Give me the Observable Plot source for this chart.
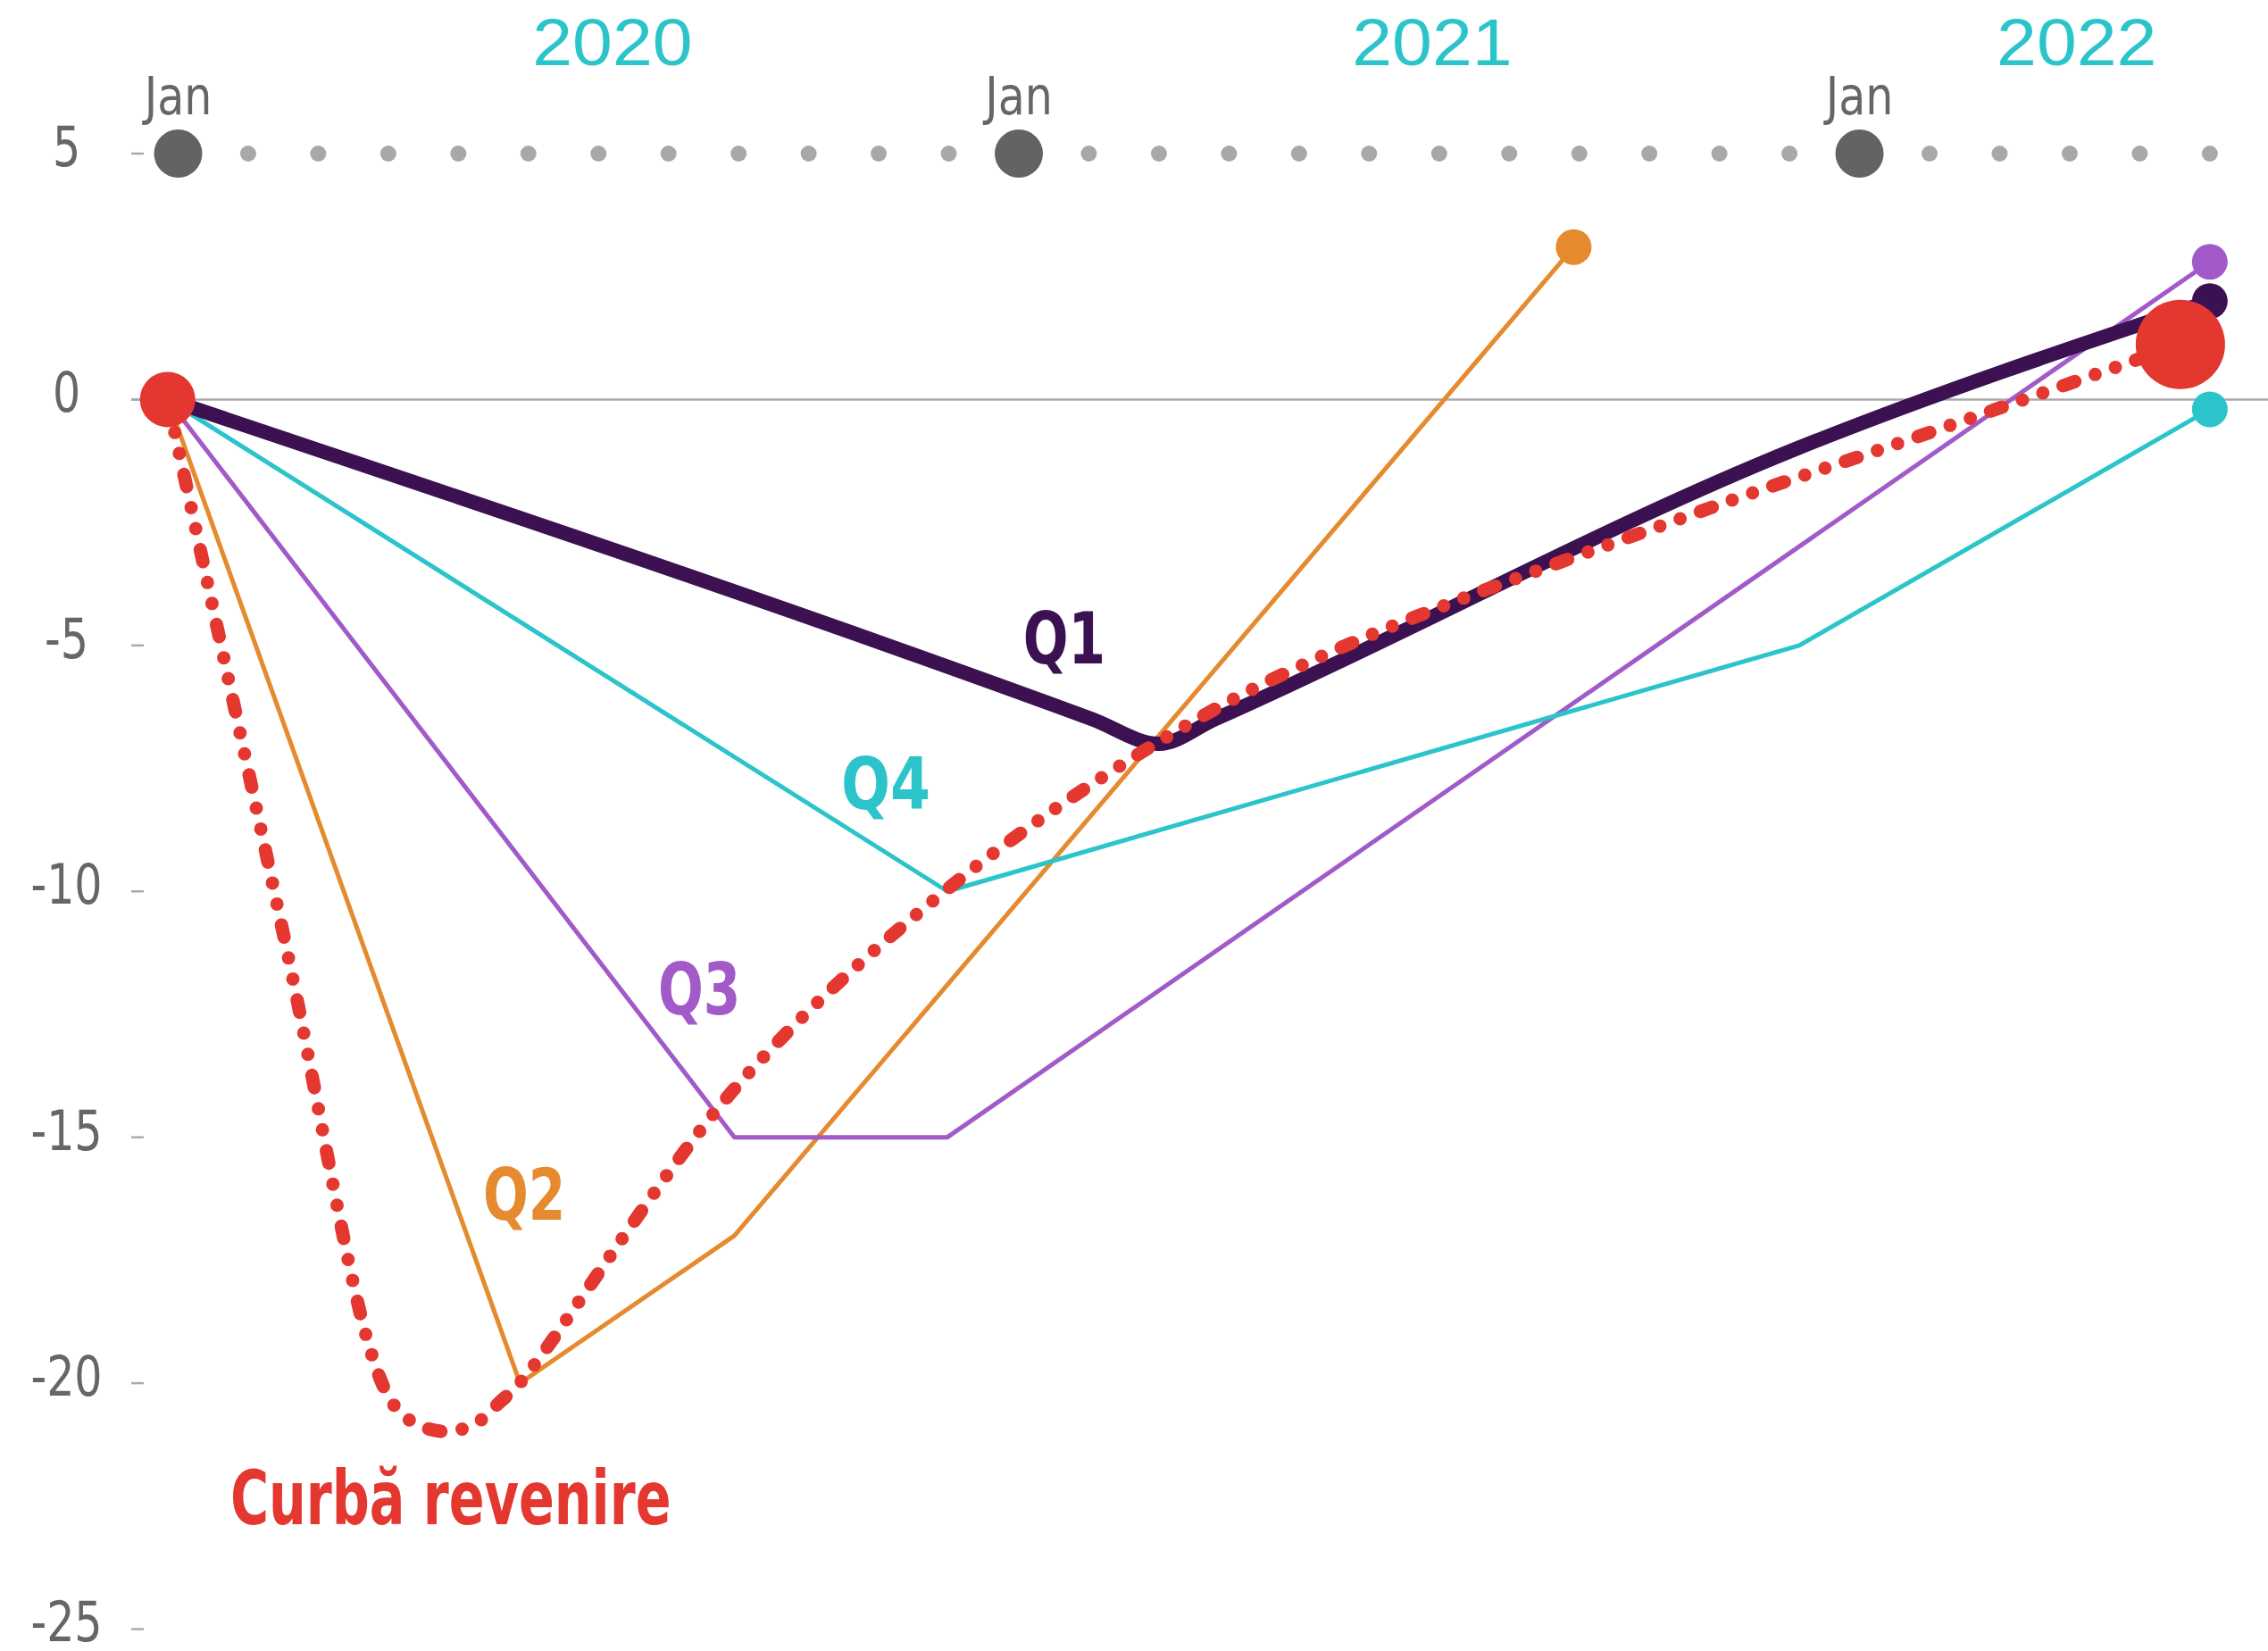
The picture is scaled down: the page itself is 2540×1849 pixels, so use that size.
<!DOCTYPE html>
<html><head><meta charset="utf-8">
<script src="https://cdn.jsdelivr.net/npm/d3@7"></script>
<script src="https://cdn.jsdelivr.net/npm/@observablehq/plot@0.6"></script>
<style>html,body{margin:0;padding:0;background:#fff;} svg{display:block}</style>
</head><body><div id="chart"></div>
<script>
// ---- data ----
const monthNames = ["Jan","Feb","Mar","Apr","May","Jun","Jul","Aug","Sep","Oct","Nov","Dec"];
const monthCount = 30; // Jan 2020 – Jun 2022 (month index 0..29)
const years = ["2020", "2021", "2022"];
const yearLabelMonth = [6.2, 17.9, 27.1];
const yTicks = [5, 0, -5, -10, -15, -20, -25];

const q1Month = [-0.15, 13.05, 14.0, 14.8, 23.1, 29];
const q1Value = [0, -6.5, -7.0, -6.5, -1.0, 2.0];
const q2Month = [-0.15, 4.88, 7.94, 19.92];
const q2Value = [0, -20, -17, 3.1];
const q3Month = [-0.15, 7.94, 10.98, 29];
const q3Value = [0, -15, -15, 2.8];
const q4Month = [-0.15, 10.98, 23.14, 29];
const q4Value = [0, -10, -5, -0.2];
const curveMonth = [-0.15, 1.56, 2.76, 3.11, 3.46, 3.89, 4.29, 4.58, 4.9, 7.95, 10.94, 13.95, 16.4, 21.76, 24.8, 28.58];
const curveValue = [0, -11.25, -19.4, -20.5, -20.87, -20.98, -20.78, -20.4, -19.96, -14, -10, -7, -5.17, -2.26, -0.77, 1.12];

const seriesNames = ["Q1", "Q2", "Q3", "Q4", "Curbă revenire"];
const seriesLabelMonth = [12.65, 4.94, 7.44, 10.1, 3.89];
const seriesLabelValue = [-4.91, -16.22, -12.03, -7.86, -22.38];

// ---- styles ----
const C = {q1: "#3b1152", q2: "#e58a2e", q3: "#a25ac8", q4: "#2bc4ca", red: "#e3372f"};
const labelColors = [C.q1, C.q2, C.q3, C.q4, C.red];
const labelNarrow = [0.83, 0.83, 0.83, 0.9, 0.777];
const font = "'Liberation Sans Narrow', 'DejaVu Sans Condensed', 'Arial Narrow', sans-serif";

const months = d3.range(monthCount);
const janMonths = months.filter(m => m % 12 === 0);
const otherMonths = months.filter(m => m % 12 !== 0);
const last = a => a[a.length - 1];

const chart = Plot.plot({
  width: 2540, height: 1849,
  marginLeft: 161, marginRight: 0, marginTop: 171.5, marginBottom: 25,
  x: {domain: [-0.484, 29.837], axis: null},
  y: {domain: [-25, 5]},
  style: {fontFamily: font, background: "white", overflow: "visible"},
  marks: [
    Plot.ruleY([0], {stroke: "#aaaaaa", strokeWidth: 2.5, insetLeft: -14}),
    Plot.axisY(yTicks, {tickSize: 14, stroke: "#aaaaaa", strokeWidth: 2.5, fill: "none", label: null}),
    Plot.axisY(yTicks, {tickSize: 0, tickPadding: 87, dy: -6, textAnchor: "middle",
      fill: "#666666", fontSize: 62, fontFamily: font, tickFormat: d => `${d}`, label: null}),
    // month dots
    Plot.dot(otherMonths, {x: d => d, y: () => 5, r: 9, fill: "#a8a8ab"}),
    Plot.dot(janMonths, {x: d => d, y: () => 5, r: 27, fill: "#636363"}),
    Plot.text(janMonths, {x: d => d, y: () => 5, text: d => monthNames[d % 12], dy: -63, fontSize: 58, fill: "#666666",
      lineAnchor: "middle"}),
    Plot.text(years, {x: (d, i) => yearLabelMonth[i], y: () => 5, text: d => d, dy: -123, fontSize: 74, fill: C.q4,
      lineAnchor: "middle", fontFamily: "'Liberation Sans', sans-serif"}),
    // scenario lines
    Plot.line(q2Value, {x: q2Month, y: q2Value, stroke: C.q2, strokeWidth: 5, strokeLinejoin: "miter"}),
    Plot.line(q3Value, {x: q3Month, y: q3Value, stroke: C.q3, strokeWidth: 5, strokeLinejoin: "miter"}),
    Plot.line(q4Value, {x: q4Month, y: q4Value, stroke: C.q4, strokeWidth: 5, strokeLinejoin: "miter"}),
    Plot.line(q1Value, {x: q1Month, y: q1Value, stroke: C.q1, strokeWidth: 16, curve: "monotone-x"}),
    Plot.dot([0], {x: () => last(q2Month), y: () => last(q2Value), r: 20, fill: C.q2}),
    Plot.dot([0], {x: () => last(q3Month), y: () => last(q3Value), r: 20, fill: C.q3}),
    Plot.dot([0], {x: () => last(q4Month), y: () => last(q4Value), r: 20, fill: C.q4}),
    Plot.dot([0], {x: () => last(q1Month), y: () => last(q1Value), r: 20, fill: C.q1}),
    // recovery curve
    Plot.line(curveValue, {x: curveMonth, y: curveValue, stroke: C.red, strokeWidth: 15, curve: "catmull-rom",
      strokeDasharray: "14 24 0 24 0 24", strokeLinecap: "round"}),
    Plot.dot([0], {x: () => curveMonth[0], y: () => curveValue[0], r: 31, fill: C.red}),
    Plot.dot([0], {x: () => last(curveMonth), y: () => last(curveValue), r: 50, fill: C.red}),
    // labels
    Plot.text(seriesNames, {x: (d, i) => seriesLabelMonth[i], y: (d, i) => seriesLabelValue[i], text: d => d,
      fill: (d, i) => labelColors[i], fontWeight: "bold", fontSize: (d, i) => i === 4 ? 84 : 80,
      lineAnchor: "middle"})
  ]
});
document.getElementById("chart").appendChild(chart);

// condense glyphs to match the narrow typeface of the original
function narrowTexts(texts, factor) {
  Array.from(texts).forEach((t, i) => {
    const f = typeof factor === "function" ? factor(i) : factor;
    const w = t.getComputedTextLength();
    t.setAttribute("textLength", (w * f).toFixed(1));
    t.setAttribute("lengthAdjust", "spacingAndGlyphs");
  });
}
narrowTexts(chart.querySelectorAll('g[aria-label="y-axis tick label"] text'), 0.88);
const textGroups = chart.querySelectorAll('g[aria-label="text"]');
// order of text marks: month labels, year labels, series labels
if (textGroups.length >= 3) {
  narrowTexts(textGroups[0].querySelectorAll("text"), 0.94);
  narrowTexts(textGroups[1].querySelectorAll("text"), 1.09);
  narrowTexts(textGroups[2].querySelectorAll("text"), i => labelNarrow[i]);
}
</script>
</body></html>
